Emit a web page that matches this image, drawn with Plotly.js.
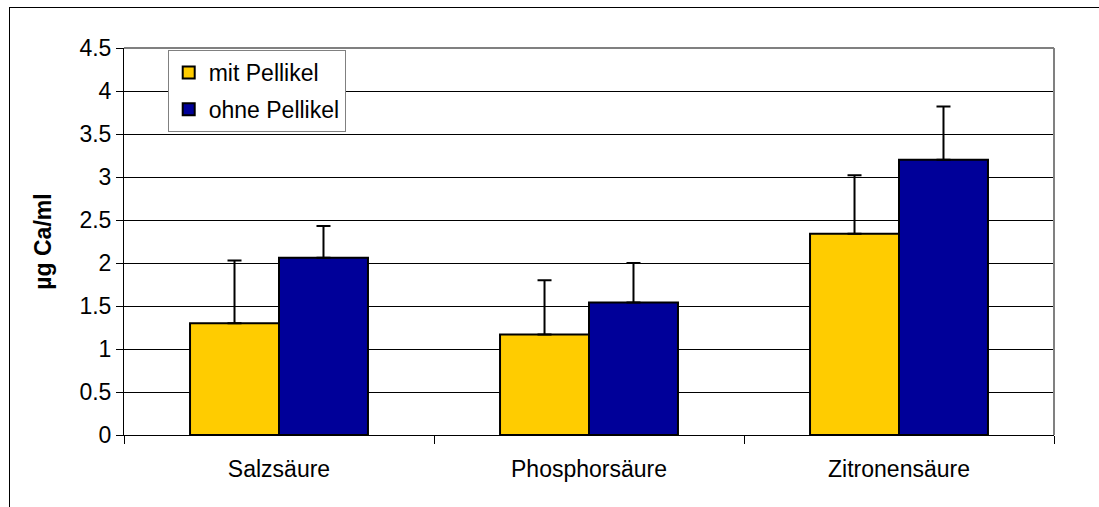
<!DOCTYPE html>
<html>
<head>
<meta charset="utf-8">
<script src="https://cdn.plot.ly/plotly-3.0.1.min.js"></script>
<style>
html,body{margin:0;padding:0;background:#fff;overflow:hidden;}
#chart{width:1099px;height:507px;position:absolute;left:0;top:0;}
#frame{position:absolute;left:9px;top:7px;width:1200px;height:600px;border-left:1px solid #000;border-top:1px solid #000;pointer-events:none;}
</style>
</head>
<body>
<div id="chart"></div>
<div id="frame"></div>
<script>
const categories = ["Salzsäure", "Phosphorsäure", "Zitronensäure"];
const mitPellikel = [1.30, 1.17, 2.34];
const mitPellikelErr = [0.73, 0.63, 0.68];
const ohnePellikel = [2.06, 1.54, 3.20];
const ohnePellikelErr = [0.37, 0.46, 0.62];
const seriesNames = ["mit Pellikel", "ohne Pellikel"];
const yTicks = [0, 0.5, 1, 1.5, 2, 2.5, 3, 3.5, 4, 4.5];
const yTickText = ["0", "0.5", "1", "1.5", "2", "2.5", "3", "3.5", "4", "4.5"];

const font = "Arial, 'Liberation Sans', sans-serif";

function errBar(arr) {
  return {type: "data", symmetric: false, array: arr, arrayminus: arr.map(() => 0),
          color: "#000", thickness: 2, width: 7};
}

const traces = [
  {type: "bar", name: seriesNames[0], x: categories, y: mitPellikel, legendgroup: "a",
   marker: {color: "#FFCC00", line: {color: "#000", width: 2}}, error_y: errBar(mitPellikelErr)},
  {type: "bar", name: seriesNames[1], x: categories, y: ohnePellikel, legendgroup: "b",
   marker: {color: "#000099", line: {color: "#000", width: 2}}, error_y: errBar(ohnePellikelErr)}
];

const layout = {
  width: 1099, height: 507,
  margin: {l: 124, r: 45, t: 48, b: 72},
  paper_bgcolor: "#fff", plot_bgcolor: "#fff",
  font: {family: font, size: 23, color: "#000"},
  barmode: "group", bargap: 0.426, bargroupgap: 0,
  showlegend: true,
  legend: {x: 0.047, y: 0.995, xanchor: "left", yanchor: "top",
           bgcolor: "#fff", bordercolor: "#808080", borderwidth: 1,
           font: {family: font, size: 23, color: "#000"},
           traceorder: "grouped", tracegroupgap: 4, itemwidth: 30},
  xaxis: {type: "category", showgrid: false, showline: true, linecolor: "#000", linewidth: 1,
          ticks: "outside", ticklen: 8, tickcolor: "#000", tickson: "boundaries",
          ticklabelstandoff: 13,
          tickfont: {family: font, size: 23}, zeroline: false, fixedrange: true},
  yaxis: {range: [0, 4.5], tickvals: yTicks, ticktext: yTickText,
          showgrid: true, gridcolor: "#000", gridwidth: 1,
          showline: true, linecolor: "#000", linewidth: 1,
          ticks: "outside", ticklen: 7, tickcolor: "#000",
          tickfont: {family: font, size: 23}, zeroline: false, fixedrange: true,
          title: {text: "<b>µg Ca/ml</b>", font: {family: font, size: 23}, standoff: 21}},
  shapes: [
    {type: "line", xref: "paper", yref: "paper", x0: 0, x1: 1, y0: 1, y1: 1, line: {color: "#808080", width: 2}},
    {type: "line", xref: "paper", yref: "paper", x0: 1, x1: 1, y0: 0, y1: 1, line: {color: "#808080", width: 2}}
  ]
};

Plotly.newPlot("chart", traces, layout, {displayModeBar: false, staticPlot: true});
</script>
</body>
</html>
